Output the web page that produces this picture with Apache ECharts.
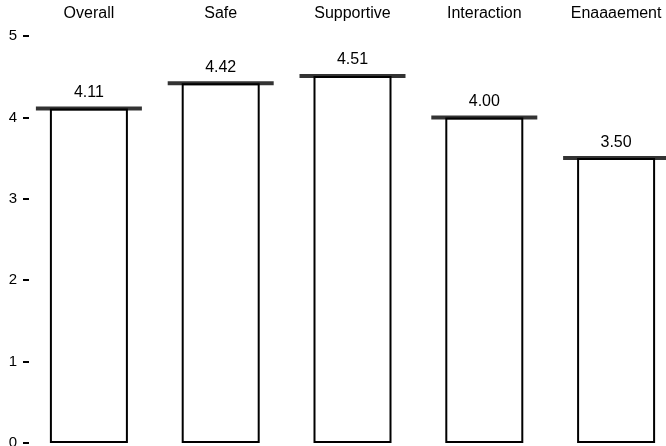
<!DOCTYPE html>
<html>
<head>
<meta charset="utf-8">
<script src="https://cdn.jsdelivr.net/npm/echarts@6/dist/echarts.min.js"></script>
<style>
  html, body { margin: 0; padding: 0; background: #fff; }
  #chart { width: 666px; height: 446px; }
</style>
</head>
<body>
<div id="chart"></div>
<script>
const categories = ['Overall', 'Safe', 'Supportive', 'Interaction', 'Enaaaement']
const scores = [4.11, 4.42, 4.51, 4.00, 3.50]
const yTicks = [0, 1, 2, 3, 4, 5]

const chart = echarts.init(document.getElementById('chart'))
chart.setOption({
  animation: false,
  backgroundColor: '#fff',
  textStyle: { fontFamily: 'Liberation Sans, Arial, sans-serif', color: '#000' },
  grid: { left: 23, right: -16, top: 36, bottom: 3, outerBoundsMode: 'none' },
  xAxis: {
    type: 'category',
    position: 'top',
    data: categories,
    axisLine: { show: false },
    axisTick: { show: false },
    axisLabel: { color: '#000', fontSize: 16, margin: 14 },
  },
  yAxis: {
    type: 'value',
    min: yTicks[0],
    max: yTicks[yTicks.length - 1],
    interval: 1,
    splitLine: { show: false },
    axisLine: { show: false },
    axisTick: { show: true, inside: true, length: 6, lineStyle: { color: '#000', width: 2 } },
    axisLabel: { color: '#000', fontSize: 15, margin: 6 },
  },
  series: [
    {
      type: 'bar',
      data: scores,
      barWidth: 78,
      itemStyle: { color: '#fff', borderColor: '#000', borderWidth: 2 },
      label: {
        show: true,
        position: 'top',
        distance: 8,
        color: '#000',
        fontSize: 16,
        formatter: (p) => p.value.toFixed(2),
      },
      z: 2,
    },
    {
      type: 'scatter',
      data: scores,
      symbol: 'rect',
      symbolSize: [106, 4],
      itemStyle: { color: '#000' },
      silent: true,
      z: 3,
    },
  ],
})
</script>
</body>
</html>
